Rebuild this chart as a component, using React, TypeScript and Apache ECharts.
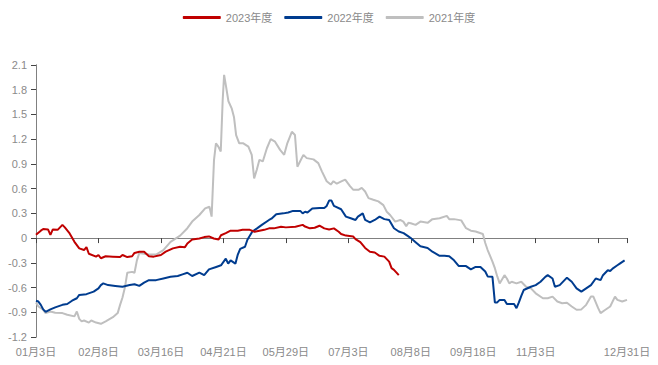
import React, { useEffect, useRef } from "react";
import * as echarts from "echarts";

// x = trading-day index (0 = 01月3日, 246 = 12月31日)
const tickIdx = [0, 26, 52, 78, 104, 130, 156, 182, 208, 246];
const tickLabels = ["01月3日", "02月8日", "03月16日", "04月21日", "05月29日", "07月3日", "08月8日", "09月18日", "11月3日", "12月31日"];
const yTicks = { min: -1.2, max: 2.1, interval: 0.3 };
const seriesNames = ["2023年度", "2022年度", "2021年度"];

const data2023: number[][] = [[0,0.04],[2,0.09],[3,0.11],[5,0.105],[6,0.04],[7,0.105],[9,0.10],[11,0.16],[12,0.13],[14,0.057],[16,-0.045],[18,-0.125],[20,-0.145],[21,-0.11],[22,-0.19],[25,-0.225],[26,-0.205],[27,-0.245],[29,-0.22],[32,-0.225],[35,-0.23],[36,-0.205],[38,-0.23],[40,-0.22],[41,-0.18],[43,-0.165],[45,-0.165],[47,-0.22],[49,-0.225],[52,-0.205],[54,-0.165],[57,-0.125],[60,-0.105],[62,-0.11],[63,-0.065],[65,-0.016],[68,-0.005],[70,0.012],[72,0.02],[74,-0.005],[76,-0.016],[77,0.035],[79,0.06],[81,0.09],[84,0.09],[86,0.1],[89,0.1],[91,0.077],[95,0.1],[97,0.118],[99,0.118],[102,0.137],[104,0.13],[108,0.137],[111,0.16],[112,0.14],[114,0.118],[116,0.125],[118,0.15],[120,0.118],[122,0.105],[124,0.118],[126,0.077],[127,0.05],[129,0.03],[132,0.02],[133,-0.012],[135,-0.05],[137,-0.12],[139,-0.165],[141,-0.175],[143,-0.215],[145,-0.225],[147,-0.285],[148,-0.365],[149,-0.385],[151,-0.45]];

const data2022: number[][] = [[0,-0.76],[1,-0.77],[2,-0.81],[3,-0.865],[4,-0.895],[6,-0.865],[8,-0.84],[11,-0.81],[13,-0.80],[15,-0.76],[17,-0.73],[18,-0.69],[21,-0.68],[24,-0.65],[26,-0.61],[27,-0.57],[28,-0.55],[30,-0.57],[33,-0.58],[36,-0.59],[39,-0.57],[41,-0.56],[43,-0.58],[45,-0.54],[47,-0.51],[50,-0.51],[53,-0.49],[56,-0.47],[59,-0.46],[61,-0.44],[63,-0.42],[65,-0.46],[68,-0.42],[70,-0.45],[72,-0.38],[75,-0.35],[77,-0.33],[79,-0.25],[80,-0.31],[81,-0.27],[83,-0.31],[84,-0.2],[85,-0.13],[87,-0.105],[88,-0.02],[90,0.077],[92,0.118],[94,0.16],[97,0.22],[98,0.235],[100,0.29],[103,0.30],[105,0.31],[107,0.33],[110,0.33],[111,0.30],[112,0.32],[113,0.31],[115,0.36],[118,0.365],[120,0.365],[121,0.39],[122,0.455],[123,0.455],[124,0.39],[127,0.35],[129,0.26],[131,0.24],[133,0.22],[134,0.26],[136,0.30],[137,0.22],[139,0.19],[141,0.22],[143,0.26],[145,0.23],[147,0.22],[149,0.12],[151,0.08],[153,0.06],[155,0.02],[156,0],[158,-0.05],[160,-0.1],[163,-0.12],[165,-0.165],[168,-0.215],[170,-0.215],[172,-0.22],[174,-0.27],[176,-0.34],[179,-0.34],[181,-0.38],[183,-0.35],[185,-0.35],[187,-0.405],[188,-0.465],[190,-0.47],[191,-0.78],[192,-0.78],[193,-0.75],[195,-0.75],[196,-0.80],[197,-0.80],[199,-0.80],[200,-0.85],[201,-0.78],[202,-0.70],[203,-0.63],[206,-0.59],[208,-0.57],[210,-0.53],[212,-0.47],[213,-0.45],[215,-0.49],[216,-0.59],[218,-0.57],[221,-0.48],[223,-0.53],[225,-0.61],[227,-0.65],[229,-0.61],[231,-0.57],[233,-0.49],[235,-0.51],[236,-0.45],[238,-0.39],[239,-0.40],[240,-0.37],[242,-0.33],[243,-0.31],[245,-0.27]];

const data2021: number[][] = [[0,-0.78],[1,-0.83],[3,-0.87],[4,-0.91],[6,-0.89],[8,-0.905],[11,-0.91],[13,-0.93],[16,-0.95],[17,-0.89],[18,-0.98],[19,-1.01],[20,-1.0],[22,-1.025],[23,-1.0],[25,-1.025],[27,-1.04],[29,-1.01],[32,-0.96],[34,-0.91],[35,-0.81],[36,-0.72],[37,-0.6],[38,-0.42],[40,-0.41],[41,-0.42],[42,-0.27],[43,-0.18],[45,-0.19],[47,-0.2],[50,-0.2],[53,-0.145],[56,-0.045],[60,0.03],[63,0.12],[65,0.2],[68,0.28],[70.4,0.36],[72.2,0.38],[73.1,0.26],[74.1,0.95],[74.9,1.15],[75.9,1.11],[76.9,1.05],[77.7,1.67],[78.3,1.98],[79.1,1.84],[80.1,1.66],[81.5,1.57],[82.4,1.47],[83.3,1.25],[84.6,1.15],[86.3,1.15],[88.4,1.11],[89.8,1.01],[90.8,0.725],[91.9,0.83],[93,0.95],[94.4,0.93],[96.1,1.09],[97.7,1.2],[99.5,1.17],[101.6,1.07],[103.3,1.01],[104.6,1.15],[106.5,1.29],[107.8,1.25],[108.8,0.865],[109.9,0.93],[111.3,1.01],[112.7,0.97],[115.5,0.955],[117.5,0.91],[119,0.81],[121,0.69],[122.7,0.65],[123.8,0.69],[125.2,0.66],[127.3,0.69],[128.7,0.71],[130.7,0.63],[132.1,0.585],[134.2,0.585],[135.6,0.61],[137,0.565],[138.4,0.485],[140.4,0.465],[142.5,0.445],[144.6,0.4],[146,0.32],[147.4,0.28],[149.5,0.2],[151.6,0.22],[152.9,0.2],[154.1,0.145],[155,0.185],[156,0.18],[158,0.16],[160,0.2],[163,0.185],[165,0.23],[168,0.24],[171,0.27],[172,0.23],[174,0.23],[177,0.215],[179,0.12],[181,0.09],[183,0.08],[186,0.05],[187,-0.06],[188,-0.145],[190,-0.285],[191,-0.365],[192,-0.465],[193,-0.55],[195,-0.45],[196,-0.49],[197,-0.55],[198,-0.53],[200,-0.55],[202,-0.53],[204,-0.59],[206,-0.61],[208,-0.67],[211,-0.73],[213,-0.73],[215,-0.71],[217,-0.77],[219,-0.79],[221,-0.785],[223,-0.83],[225,-0.87],[227,-0.865],[229,-0.81],[231,-0.71],[232,-0.71],[234,-0.85],[235,-0.91],[237,-0.87],[239,-0.83],[241,-0.71],[242,-0.75],[244,-0.77],[246,-0.75]];

const colors = { c2023: "#C00000", c2022: "#003C8F", c2021: "#BFBFBF" };
const axisGray = "#808080";
const textGray = "#8a8a8a";
const FONT = "'Liberation Sans', 'Noto Sans CJK SC', sans-serif";

export default function App() {
  const ref = useRef<HTMLDivElement>(null);
  useEffect(() => {
    document.body.style.margin = "0";
    const chart = echarts.init(ref.current!, null, { renderer: "svg" });
    const xMax = tickIdx[tickIdx.length - 1];
    const labelFor = (v: number) => {
      const i = tickIdx.indexOf(Math.round(v));
      return i >= 0 ? tickLabels[i] : "";
    };
    chart.setOption({
      animation: false,
      textStyle: { fontFamily: FONT },
      legend: {
        data: seriesNames,
        top: 7,
        left: "center",
        icon: "roundRect",
        itemWidth: 38,
        itemHeight: 3,
        itemGap: 12,
        textStyle: { color: textGray, fontSize: 11, fontFamily: FONT },
      },
      grid: { left: 36, right: 31, top: 65, bottom: 28 },
      xAxis: [
        {
          type: "value",
          min: 0,
          max: xMax,
          interval: 26,
          axisLine: { show: true, onZero: true, lineStyle: { color: axisGray, width: 1 } },
          axisTick: { show: true, length: 5, lineStyle: { color: "#444" } },
          axisLabel: { show: false },
          splitLine: { show: false },
        },
        {
          type: "value",
          min: 0,
          max: xMax,
          interval: 26,
          position: "bottom",
          axisLine: { show: false, onZero: false },
          axisTick: { show: false },
          axisLabel: {
            show: true,
            margin: 9,
            color: textGray,
            fontSize: 11,
            fontFamily: FONT,
            showMaxLabel: true,
            showMinLabel: true,
            formatter: labelFor,
          },
          splitLine: { show: false },
        },
      ],
      yAxis: [
        {
          type: "value",
          min: yTicks.min,
          max: yTicks.max,
          interval: yTicks.interval,
          axisLine: { show: true, lineStyle: { color: axisGray } },
          axisTick: { show: true, length: 5, lineStyle: { color: "#444" } },
          axisLabel: { color: textGray, fontSize: 11, margin: 9, fontFamily: FONT },
          splitLine: { show: false },
        },
        {
          type: "value",
          min: yTicks.min,
          max: yTicks.max,
          interval: yTicks.interval,
          position: "right",
          axisLine: { show: true, lineStyle: { color: axisGray } },
          axisTick: { show: false },
          axisLabel: { show: false },
          splitLine: { show: false },
        },
      ],
      series: [
        {
          name: seriesNames[2],
          type: "line",
          data: data2021,
          showSymbol: false,
          symbol: "none",
          lineStyle: { color: colors.c2021, width: 2 },
          itemStyle: { color: colors.c2021 },
        },
        {
          name: seriesNames[1],
          type: "line",
          data: data2022,
          showSymbol: false,
          symbol: "none",
          lineStyle: { color: colors.c2022, width: 2 },
          itemStyle: { color: colors.c2022 },
        },
        {
          name: seriesNames[0],
          type: "line",
          data: data2023,
          showSymbol: false,
          symbol: "none",
          lineStyle: { color: colors.c2023, width: 2 },
          itemStyle: { color: colors.c2023 },
        },
      ],
    });
    return () => chart.dispose();
  }, []);
  return <div ref={ref} style={{ width: 658, height: 365 }} />;
}
